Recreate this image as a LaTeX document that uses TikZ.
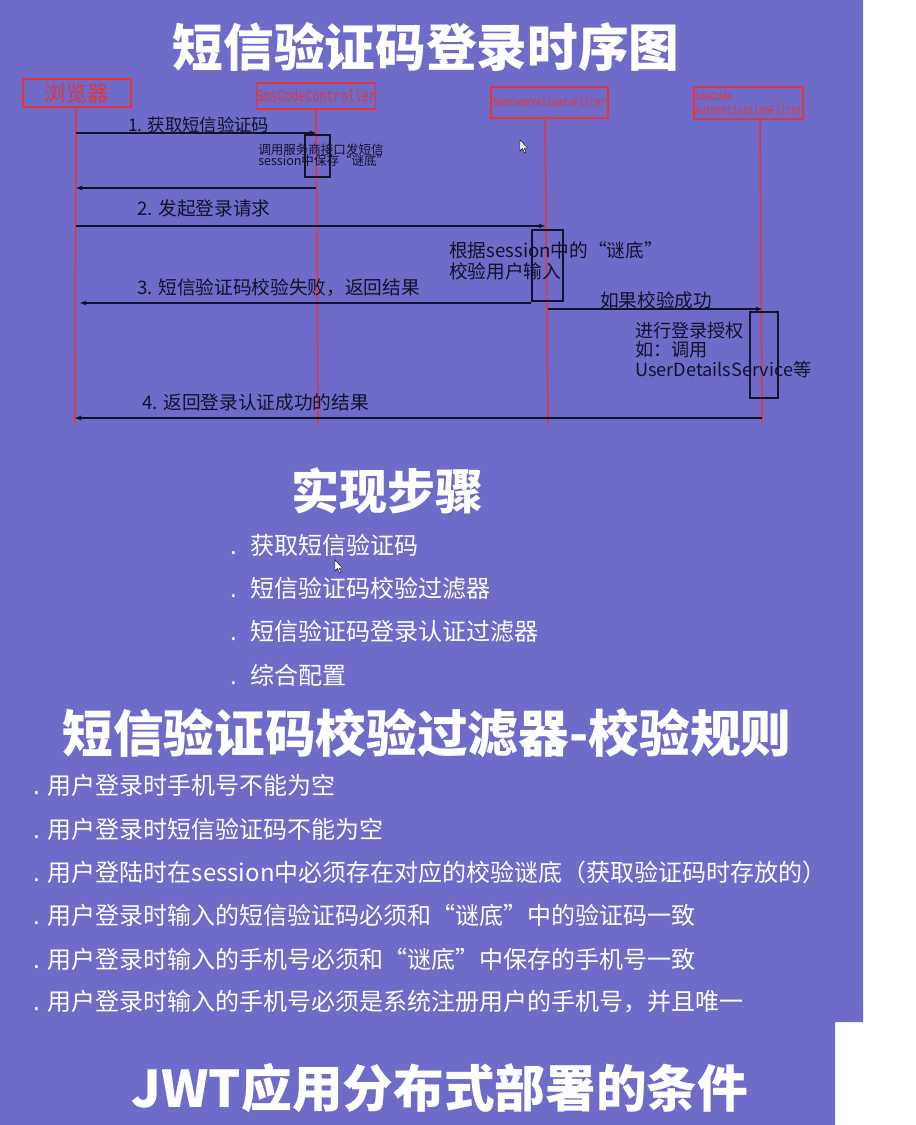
\documentclass[tikz,border=0pt]{standalone}
\usepackage{graphicx}
\usepackage{fontspec}
\setmainfont{Noto Sans CJK SC}
\newfontfamily\monofont{Liberation Mono}
\usetikzlibrary{arrows.meta,fit}

\definecolor{slide}{RGB}{110,107,201}
\definecolor{lifered}{RGB}{232,52,60}
\definecolor{ink}{RGB}{18,18,45}

\newcommand\fs[1]{\fontsize{#1}{#1}\selectfont}
% tall narrow label text used inside the participant boxes
\newcommand\tallmono[1]{\scalebox{1}[1.4]{#1}}

\tikzset{
  title/.style={text=white, font=\fs{37}\bfseries, inner sep=0pt},
  bullet/.style={text=white, font=\fs{18}, anchor=west, inner sep=0pt},
  part/.style={draw=lifered, line width=0.8pt, text=lifered, inner sep=0pt},
  lifeline/.style={draw=lifered, line width=1.1pt},
  actbox/.style={draw=ink, line width=0.9pt, inner sep=0pt},
  msg/.style={draw=ink, line width=1.1pt, -{Stealth[length=5pt,width=3.6pt]}},
  msglabel/.style={text=ink, font=\fs{14}, inner sep=0pt},
  note/.style={text=ink, inner sep=0pt, anchor=west, align=left},
  pointer/.style={fill=white, draw=black, line width=0.3pt}
}

\begin{document}
\begin{tikzpicture}[x=0.75pt,y=-0.75pt]
\useasboundingbox (0,0) rectangle (916,1125);
\fill[white] (0,0) rectangle (916,1125);
\fill[slide] (0,0) -- (863,0) -- (863,1022) -- (835,1022) -- (835,1125) -- (0,1125) -- cycle;

% ---- title ----
\node[title, font=\fs{38}\bfseries] (t1) at (426,47) {短信验证码登录时序图};

% ---- participants ----
\node[part, minimum width=81pt, minimum height=21pt, font=\fs{16}] (brw) at (77,93) {浏览器};
\node[part, minimum width=88.5pt, minimum height=19.5pt, font=\monofont\fs{8.8}] (ctl) at (316,96) {\tallmono{SmsCodeController}};
\node[part, minimum width=87.75pt, minimum height=23.25pt, font=\monofont\fs{6.7}] (val) at (549.5,102.5) {\tallmono{SmsCodeValidateFilter}};
\node[part, minimum width=81.75pt, minimum height=24pt, font=\monofont\fs{6.7}, align=left] (auth) at (748.5,103) {\tallmono{SmsCode}\\[2pt]\tallmono{AuthenticationFilter}};

% lifeline ends
\coordinate (brwTop) at (76,107);
\coordinate (ctlTop) at (316,109);
\coordinate (valTop) at (545,118);
\coordinate (authTop) at (760,119);
\coordinate (brwEnd) at (75,425);
\coordinate (ctlEnd) at (318,425);
\coordinate (valEnd) at (548,425);
\coordinate (authEnd) at (762,425);
\draw[lifeline] (brwTop) -- (brwEnd);
\draw[lifeline] (ctlTop) -- (ctlEnd);
\draw[lifeline] (valTop) -- (valEnd);
\draw[lifeline] (authTop) -- (authEnd);

% message heights
\coordinate (m1) at (0,133);
\coordinate (m1r) at (0,188);
\coordinate (m2) at (0,226);
\coordinate (m3) at (0,303);
\coordinate (m4) at (0,309);
\coordinate (m5) at (0,418);

% ---- activations ----
\node[actbox, fit={(305,135) (330,177)}] (act1) {};
\node[actbox, fit={(532,230) (563,301)}] (act2) {};
\node[actbox, fit={(750,312) (778,398)}] (act3) {};

% ---- messages ----
\draw[msg] (brwTop |- m1) -- (ctlTop |- m1);
\node[msglabel, font=\fs{13}, anchor=west] (l1) at (128,125) {1. 获取短信验证码};

\draw[msg] (ctlTop |- m1r) -- (brwTop |- m1r);

\draw[msg] (brwTop |- m2) -- (valTop |- m2);
\node[msglabel, anchor=west] (l2) at (137,208) {2. 发起登录请求};

\draw[msg] (act2.west |- m3) -- (80,303);
\node[msglabel, anchor=west] (l3) at (137,288) {3. 短信验证码校验失败，返回结果};

\draw[msg] (548,309) -- (authEnd |- m4);
\node[msglabel, anchor=west] (l4) at (600,300) {如果校验成功};

\draw[msg] (authEnd |- m5) -- (brwEnd |- m5);
\node[msglabel, anchor=west] (l5) at (142,402) {4. 返回登录认证成功的结果};

% ---- notes ----
\node[note, font=\fs{9.4}] (n1) at (258,155) {调用服务商接口发短信\\[-1pt]session中保存“谜底”};
\node[note, font=\fs{14}] (n2) at (449,261) {根据session中的“谜底”\\[2pt]校验用户输入};
\node[note, font=\fs{13.6}] (n3) at (635,350) {进行登录授权\\[1pt]如：调用\\[1pt]UserDetailsService等};

% ---- mouse pointers ----
\fill[pointer] (520,140) -- (520,151) -- (522.5,148.5) -- (524.5,153) -- (526,152.3) -- (524,148) -- (527.5,148) -- cycle;
\fill[pointer] (335,560) -- (335,571) -- (337.5,568.5) -- (339.5,573) -- (341,572.3) -- (339,568) -- (342.5,568) -- cycle;

% ---- implementation steps ----
\node[title, font=\fs{36}\bfseries] (t2) at (387,491) {实现步骤};
\node[bullet] (s1) at (230,545) {.\hspace{10pt}获取短信验证码};
\node[bullet] (s2) at (230,588) {.\hspace{10pt}短信验证码校验过滤器};
\node[bullet] (s3) at (230,631) {.\hspace{10pt}短信验证码登录认证过滤器};
\node[bullet] (s4) at (230,675) {.\hspace{10pt}综合配置};

% ---- validation rules ----
\node[title, font=\fs{38}\bfseries] (t3) at (427,733) {短信验证码校验过滤器-校验规则};
\node[bullet] (r1) at (33,785) {.\hspace{6pt}用户登录时手机号不能为空};
\node[bullet] (r2) at (33,829) {.\hspace{6pt}用户登录时短信验证码不能为空};
\node[bullet] (r3) at (33,872) {.\hspace{6pt}用户登陆时在session中必须存在对应的校验谜底（获取验证码时存放的）};
\node[bullet] (r4) at (33,915) {.\hspace{6pt}用户登录时输入的短信验证码必须和“谜底”中的验证码一致};
\node[bullet] (r5) at (33,959) {.\hspace{6pt}用户登录时输入的手机号必须和“谜底”中保存的手机号一致};
\node[bullet] (r6) at (33,1002) {.\hspace{6pt}用户登录时输入的手机号必须是系统注册用户的手机号，并且唯一};

% ---- next heading ----
\node[title, font=\fs{38}\bfseries] (t4) at (440,1088) {JWT应用分布式部署的条件};
\end{tikzpicture}
\end{document}
